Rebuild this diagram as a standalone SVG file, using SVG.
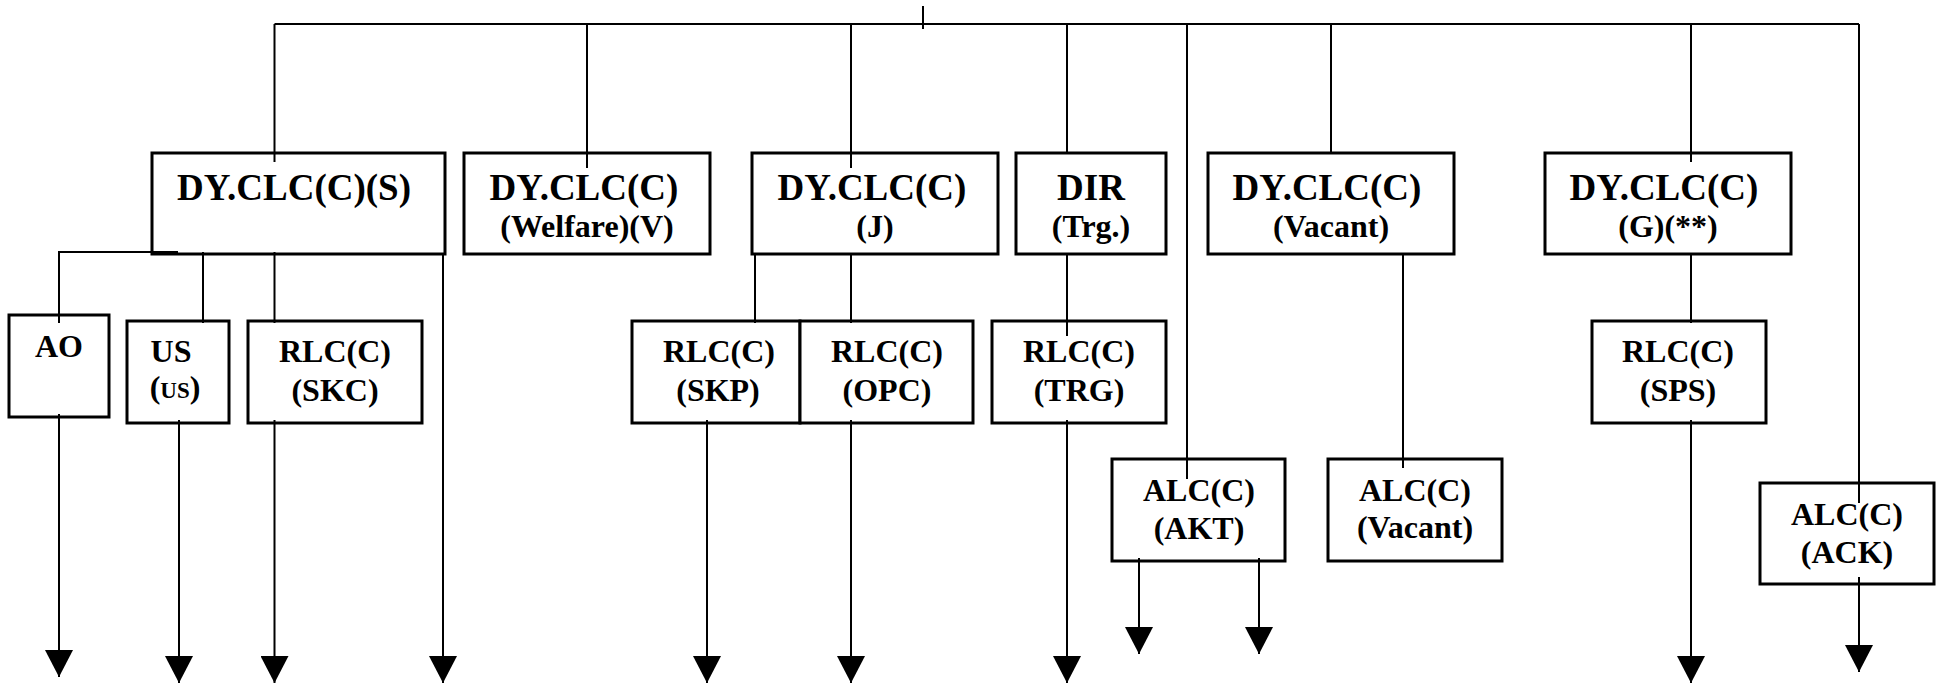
<svg xmlns="http://www.w3.org/2000/svg" width="1944" height="685" viewBox="0 0 1944 685">
<defs>
<marker id="arr" markerUnits="userSpaceOnUse" markerWidth="27" markerHeight="28" viewBox="0 0 27 28" refX="27" refY="14" orient="auto">
<path d="M0,0 L27,14 L0,28 Z" fill="#000"/>
</marker>
</defs>
<style>
.box{fill:#fff;stroke:#000;stroke-width:3}
.t{font-family:"Liberation Serif","Times New Roman",serif;font-weight:bold;text-anchor:middle;fill:#000}
.big{font-size:37px}
.med{font-size:32px}
.sm{font-size:23px}
.ln{fill:none;stroke:#000;stroke-width:2}
.ar{fill:none;stroke:#000;stroke-width:2;marker-end:url(#arr)}
</style>
<rect width="1944" height="685" fill="#fff"/>

<g id="n-dyclc-s">
<rect class="box" x="152" y="153" width="293" height="101"/>
<text class="t big" x="294" y="200">DY.CLC(C)(S)</text>
</g>
<g id="n-dyclc-welfare">
<rect class="box" x="464" y="153" width="246" height="101"/>
<text class="t big" x="584" y="200">DY.CLC(C)</text>
<text class="t med" x="587" y="237">(Welfare)(V)</text>
</g>
<g id="n-dyclc-j">
<rect class="box" x="752" y="153" width="246" height="101"/>
<text class="t big" x="872" y="200">DY.CLC(C)</text>
<text class="t med" x="875" y="237">(J)</text>
</g>
<g id="n-dir">
<rect class="box" x="1016" y="153" width="150" height="101"/>
<text class="t big" x="1091" y="200">DIR</text>
<text class="t med" x="1091" y="237">(Trg.)</text>
</g>
<g id="n-dyclc-vacant">
<rect class="box" x="1208" y="153" width="246" height="101"/>
<text class="t big" x="1327" y="200">DY.CLC(C)</text>
<text class="t med" x="1331" y="237">(Vacant)</text>
</g>
<g id="n-dyclc-g">
<rect class="box" x="1545" y="153" width="246" height="101"/>
<text class="t big" x="1664" y="200">DY.CLC(C)</text>
<text class="t med" x="1668" y="237">(G)(**)</text>
</g>

<g id="n-ao">
<rect class="box" x="9" y="315" width="100" height="102"/>
<text class="t med" x="59" y="357">AO</text>
</g>
<g id="n-us">
<rect class="box" x="127" y="321" width="102" height="102"/>
<text class="t med" x="171" y="362">US</text>
<text class="t med" x="175" y="398">(<tspan class="sm">US</tspan>)</text>
</g>
<g id="n-rlc-skc">
<rect class="box" x="248" y="321" width="174" height="102"/>
<text class="t med" x="335" y="362">RLC(C)</text>
<text class="t med" x="335" y="401">(SKC)</text>
</g>
<g id="n-rlc-skp">
<rect class="box" x="632" y="321" width="168" height="102"/>
<text class="t med" x="719" y="362">RLC(C)</text>
<text class="t med" x="718" y="401">(SKP)</text>
</g>
<g id="n-rlc-opc">
<rect class="box" x="800" y="321" width="173" height="102"/>
<text class="t med" x="887" y="362">RLC(C)</text>
<text class="t med" x="887" y="401">(OPC)</text>
</g>
<g id="n-rlc-trg">
<rect class="box" x="992" y="321" width="174" height="102"/>
<text class="t med" x="1079" y="362">RLC(C)</text>
<text class="t med" x="1079" y="401">(TRG)</text>
</g>
<g id="n-rlc-sps">
<rect class="box" x="1592" y="321" width="174" height="102"/>
<text class="t med" x="1678" y="362">RLC(C)</text>
<text class="t med" x="1678" y="401">(SPS)</text>
</g>
<g id="n-alc-akt">
<rect class="box" x="1112" y="459" width="173" height="102"/>
<text class="t med" x="1199" y="501">ALC(C)</text>
<text class="t med" x="1199" y="539">(AKT)</text>
</g>
<g id="n-alc-vacant">
<rect class="box" x="1328" y="459" width="174" height="102"/>
<text class="t med" x="1415" y="501">ALC(C)</text>
<text class="t med" x="1415" y="538">(Vacant)</text>
</g>
<g id="n-alc-ack">
<rect class="box" x="1760" y="483" width="174" height="101"/>
<text class="t med" x="1847" y="525">ALC(C)</text>
<text class="t med" x="1847" y="563">(ACK)</text>
</g>

<g id="connectors">
<path class="ln" d="M274.5,24 H1859"/>
<path class="ln" d="M923,6 V29"/>
<path class="ln" d="M274.5,24 V162"/>
<path class="ln" d="M587,24 V168"/>
<path class="ln" d="M851,24 V168"/>
<path class="ln" d="M1067,24 V153"/>
<path class="ln" d="M1187,24 V479"/>
<path class="ln" d="M1331,24 V153"/>
<path class="ln" d="M1691,24 V162"/>
<path class="ln" d="M1859,24 V503"/>
<path class="ar" d="M1859,577 V672"/>

<path class="ln" d="M58,252 H178"/>
<path class="ln" d="M59,252 V323"/>
<path class="ar" d="M59,414 V677"/>
<path class="ln" d="M203,252 V323"/>
<path class="ar" d="M179,420 V683"/>
<path class="ln" d="M274.5,252 V323"/>
<path class="ar" d="M274.5,420 V683"/>
<path class="ar" d="M443,254 V683"/>

<path class="ln" d="M755,254 V323"/>
<path class="ln" d="M851,254 V323"/>
<path class="ar" d="M707,420 V683"/>
<path class="ar" d="M851,420 V683"/>

<path class="ln" d="M1067,254 V336"/>
<path class="ar" d="M1067,420 V683"/>

<path class="ar" d="M1139,558 V654"/>
<path class="ar" d="M1259,558 V654"/>

<path class="ln" d="M1403,254 V468"/>

<path class="ln" d="M1691,254 V323"/>
<path class="ar" d="M1691,420 V683"/>
</g>
</svg>
